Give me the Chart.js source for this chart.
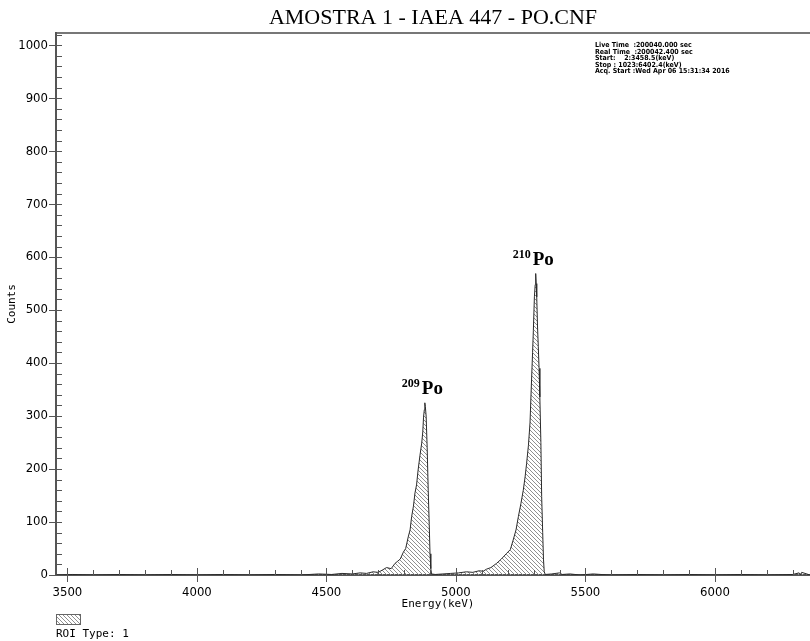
<!DOCTYPE html>
<html>
<head>
<meta charset="utf-8">
<title>AMOSTRA 1 - IAEA 447 - PO.CNF</title>
<script src="https://cdn.jsdelivr.net/npm/chart.js@4.4.1/dist/chart.umd.min.js"></script>
<style>
  html, body { margin: 0; padding: 0; background: #fff; }
  #wrap { width: 810px; height: 641px; position: relative; }
</style>
</head>
<body>
<div id="wrap"><canvas id="spectrumChart"></canvas></div>
<script>
// Alpha spectrum: energy (keV) and counts per channel
const energies = [
  3458, 3520, 3600, 3700, 3800, 3900, 4000, 4100, 4200, 4300,
  4400, 4470, 4520, 4560, 4600, 4630, 4655, 4680, 4700, 4715,
  4732, 4750, 4765, 4775, 4785, 4797, 4806, 4816, 4823, 4829,
  4836, 4842, 4848, 4854, 4861, 4868, 4872, 4875, 4878, 4880,
  4882, 4885, 4889, 4893, 4897, 4900, 4903, 4906, 4920, 4950,
  4980, 5010, 5040, 5065, 5090, 5105, 5118, 5135, 5157, 5175,
  5196, 5210, 5221, 5232, 5241, 5251, 5260, 5267, 5273, 5280,
  5286, 5292, 5296, 5299, 5303, 5306, 5308, 5310, 5312, 5315,
  5318, 5321, 5324, 5328, 5331, 5335, 5338, 5341, 5345, 5370,
  5400, 5410, 5440, 5480, 5530, 5560, 5600, 5700, 5800, 5900,
  6000, 6100, 6200, 6300, 6325, 6330, 6335, 6367
];
const counts = [
  0, 1, 0, 1, 0, 1, 0, 1, 0, 1,
  0, 2, 1, 3, 2, 4, 3, 6, 5, 9,
  14, 12, 22, 26, 30, 43, 50, 72, 85, 110,
  130, 155, 170, 198, 225, 249, 270, 298, 312, 325,
  318, 300, 240, 160, 95, 40, 12, 2, 1, 2,
  3, 4, 6, 5, 8, 7, 11, 14, 22, 30,
  41, 48, 66, 85, 110, 135, 160, 185, 211, 245,
  287, 368, 420, 462, 525, 548, 569, 550, 525, 470,
  431, 390, 336, 250, 148, 80, 30, 6, 1, 2,
  4, 1, 2, 0, 2, 1, 0, 1, 0, 1,
  0, 1, 0, 1, 4, 1, 5, 0
];

// Axis ranges and tick spacing
const xMin = 3456, xMax = 6367;
const yMin = 0, yMax = 1023;
const xTickStep = 100, xLabelStep = 500;
const yTickStep = 20, yLabelStep = 100;

// Peak annotations
const peakLabels = [
  { mass: '209', element: 'Po', energy: 4880, counts: 325 },
  { mass: '210', element: 'Po', energy: 5308, counts: 569 }
];

// Acquisition info block
const infoLines = [
  'Live Time  :200040.000 sec',
  'Real Time  :200042.400 sec',
  'Start:    2:3458.5(keV)',
  'Stop : 1023:6402.4(keV)',
  'Acq. Start :Wed Apr 06 15:31:34 2016'
];

const narrowFont = "'Liberation Sans Narrow', 'DejaVu Sans Condensed', sans-serif";
const monoFont = "'DejaVu Sans Mono', 'Liberation Mono', monospace";

// Hatch pattern for the ROI fill
function makeHatch() {
  const c = document.createElement('canvas');
  c.width = 4; c.height = 4;
  const g = c.getContext('2d');
  g.strokeStyle = '#8f8f8f';
  g.lineWidth = 1;
  g.beginPath();
  g.moveTo(-1, -1); g.lineTo(5, 5);
  g.moveTo(-1, 3); g.lineTo(1, 5);
  g.moveTo(3, -1); g.lineTo(5, 1);
  g.stroke();
  return g.createPattern(c, 'repeat');
}
const hatch = makeHatch();

// Draws tick marks, title, peak labels and the other texts
const decorations = {
  id: 'decorations',
  afterDraw(chart) {
    const ctx = chart.ctx;
    const xs = chart.scales.x, ys = chart.scales.y;
    const area = chart.chartArea;
    ctx.save();
    ctx.strokeStyle = '#555';
    ctx.lineWidth = 1;

    xs.ticks.forEach(t => {
      const px = Math.round(xs.getPixelForValue(t.value)) + 0.5;
      const major = t.value % xLabelStep === 0;
      ctx.beginPath();
      ctx.moveTo(px, area.bottom - (major ? 7 : 5));
      ctx.lineTo(px, area.bottom + (major ? 7 : 0));
      ctx.stroke();
    });
    ys.ticks.forEach(t => {
      const py = Math.round(ys.getPixelForValue(t.value)) + 0.5;
      const major = t.value % yLabelStep === 0;
      ctx.beginPath();
      ctx.moveTo(area.left - (major ? 7 : 0), py);
      ctx.lineTo(area.left + 6, py);
      ctx.stroke();
    });

    // title
    ctx.fillStyle = '#000';
    ctx.font = "22px 'Liberation Serif', 'Times New Roman', serif";
    ctx.textAlign = 'center';
    ctx.textBaseline = 'alphabetic';
    ctx.fillText('AMOSTRA 1 - IAEA 447 - PO.CNF', (area.left + area.right) / 2, 24);

    // peak labels
    peakLabels.forEach(p => {
      const px = xs.getPixelForValue(p.energy);
      const py = ys.getPixelForValue(p.counts) - 9;
      ctx.textAlign = 'left';
      ctx.font = "bold 19px 'Liberation Serif', serif";
      ctx.fillText(p.element, px - 3, py);
      ctx.textAlign = 'right';
      ctx.font = "bold 12px 'Liberation Serif', serif";
      ctx.fillText(p.mass, px - 5, py - 7);
    });

    // info block
    ctx.textAlign = 'left';
    ctx.font = "bold 7px 'DejaVu Sans Condensed', sans-serif";
    infoLines.forEach((line, i) => ctx.fillText(line, 595, 47 + i * 6.5));

    // axis names
    ctx.font = '11px ' + monoFont;
    ctx.textAlign = 'center';
    ctx.fillText('Energy(keV)', 438, 607);
    ctx.save();
    ctx.translate(15, (area.top + area.bottom) / 2);
    ctx.rotate(-Math.PI / 2);
    ctx.fillText('Counts', 0, 0);
    ctx.restore();

    // ROI legend
    ctx.fillStyle = hatch;
    ctx.fillRect(56, 614, 24, 10);
    ctx.strokeStyle = '#666';
    ctx.strokeRect(56.5, 614.5, 24, 10);
    ctx.fillStyle = '#000';
    ctx.textAlign = 'left';
    ctx.font = '11px ' + monoFont;
    ctx.fillText('ROI Type: 1', 56, 637);
    ctx.restore();
  }
};

const spectrumCtx = document.getElementById('spectrumChart').getContext('2d');
const spectrumChart = new Chart(spectrumCtx, {
  type: 'line',
  data: {
    datasets: [{
      label: 'ROI',
      data: energies.map((e, i) => ({ x: e, y: counts[i] })),
      borderColor: '#2a2a2a',
      borderWidth: 1,
      backgroundColor: hatch,
      fill: 'origin',
      pointRadius: 0,
      tension: 0
    }]
  },
  options: {
    responsive: true,
    maintainAspectRatio: false,
    animation: false,
    devicePixelRatio: 1,
    layout: { padding: { top: 33, left: 0, right: 0, bottom: 0 } },
    plugins: {
      legend: { display: false },
      tooltip: { enabled: false }
    },
    scales: {
      x: {
        type: 'linear',
        position: 'bottom',
        min: xMin,
        max: xMax,
        grid: { display: false, drawTicks: false },
        border: { color: '#555', width: 2 },
        ticks: {
          stepSize: xTickStep,
          includeBounds: false,
          autoSkip: false,
          maxRotation: 0,
          padding: 10,
          color: '#000',
          font: { family: narrowFont, size: 13 },
          callback: v => (v % xLabelStep === 0 ? String(v) : '')
        },
        afterFit: s => { s.height = 66; }
      },
      xTop: {
        type: 'linear',
        position: 'top',
        min: xMin,
        max: xMax,
        grid: { display: false, drawTicks: false },
        border: { color: '#777', width: 2 },
        ticks: { display: false },
        afterFit: s => { s.height = 0; }
      },
      y: {
        min: yMin,
        max: yMax,
        grid: { display: false, drawTicks: false },
        border: { color: '#555', width: 2 },
        ticks: {
          stepSize: yTickStep,
          includeBounds: false,
          autoSkip: false,
          padding: 8,
          color: '#000',
          font: { family: narrowFont, size: 13 },
          callback: v => (v % yLabelStep === 0 ? String(v) : '')
        },
        afterFit: s => { s.width = 56; }
      }
    }
  },
  plugins: [decorations]
});
</script>
</body>
</html>
